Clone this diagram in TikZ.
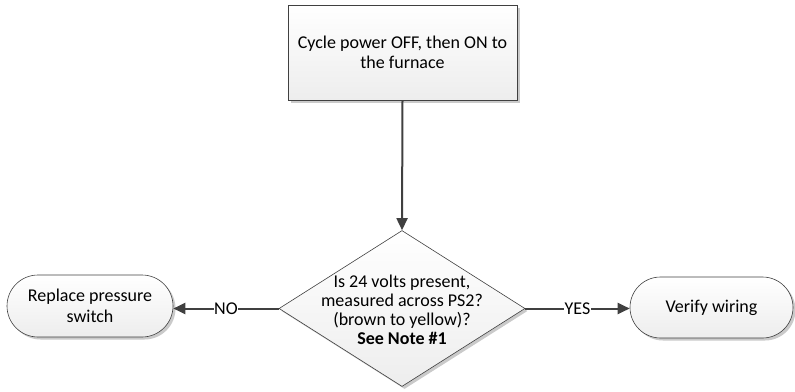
\documentclass[tikz,border=0pt]{standalone}
\usepackage{fontspec}
\setmainfont{Carlito}
\usetikzlibrary{shapes.geometric,shapes.misc,arrows.meta,shadows}
\definecolor{edge}{HTML}{404040}
\definecolor{shade}{HTML}{EDEDED}
\tikzset{
  boxstyle/.style={draw=edge, line width=0.6pt, top color=white, bottom color=shade,
    drop shadow={shadow xshift=2.5pt, shadow yshift=-2.5pt, fill=black!35, opacity=0.6}},
  arr/.style={draw=edge, line width=2pt, -{Triangle[length=12pt,width=11pt]}},
  lbl/.style={fill=white, inner sep=0.5pt, font=\fontsize{18}{21}\selectfont}
}
\begin{document}
\begin{tikzpicture}[x=1pt,y=-1pt, every node/.style={font=\fontsize{18}{20.5}\selectfont}]
\useasboundingbox (0,0) rectangle (795,391);
\node[boxstyle, rectangle, minimum width=229pt, minimum height=95pt, align=center, inner sep=0pt] (cyc) at (402.5,52.5) {Cycle power OFF, then ON to\\the furnace};
\node[boxstyle, diamond, minimum width=246pt, minimum height=156pt, inner sep=0pt] (dec) at (402,308.5) {};
\node[align=center, inner sep=0pt, font=\fontsize{18}{19}\selectfont] (dtxt) at (402,310) {Is 24 volts present,\\measured across PS2?\\(brown to yellow)?\\\textbf{See Note \#1}};
\node[boxstyle, rounded rectangle, minimum width=166pt, minimum height=62pt, align=center, inner sep=0pt] (rep) at (90,306) {Replace pressure\\switch};
\node[boxstyle, rounded rectangle, minimum width=163pt, minimum height=61pt, align=center, inner sep=0pt] (ver) at (711.5,307.5) {Verify wiring};
\draw[arr] (cyc.south) -- (dec.north);
\draw[arr] (dec.west) -- node[lbl] (no) {NO} (rep.east |- dec.west);
\draw[arr] (dec.east) -- node[lbl] (yes) {YES} (ver.west |- dec.east);
\end{tikzpicture}
\end{document}
